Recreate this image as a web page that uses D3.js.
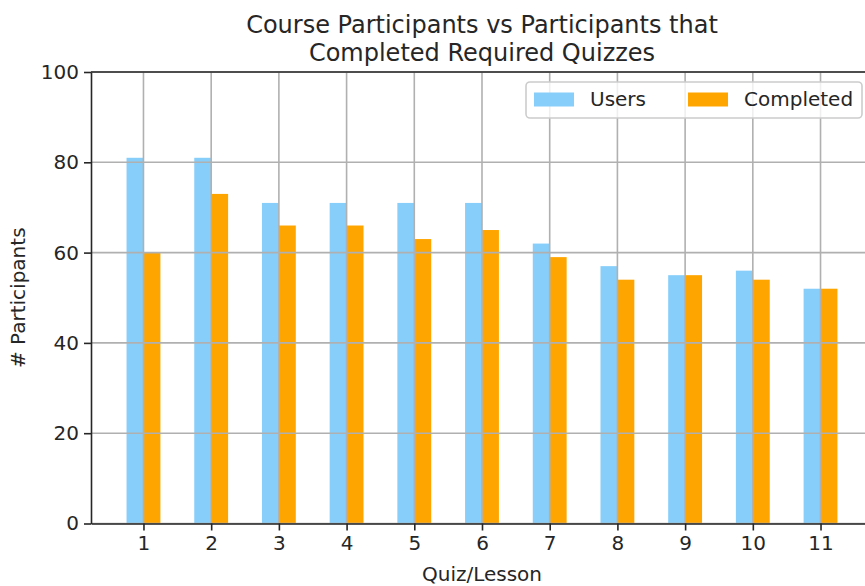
<!DOCTYPE html>
<html>
<head>
<meta charset="utf-8">
<script src="https://cdnjs.cloudflare.com/ajax/libs/d3/7.8.5/d3.min.js"></script>
<style>
  body { margin: 0; background: #fff; overflow: hidden; }
  text { font-family: "DejaVu Sans", sans-serif; fill: #262626; }
</style>
</head>
<body>
<script>
// Chart data
var lessons = [1, 2, 3, 4, 5, 6, 7, 8, 9, 10, 11];
var usersCounts = [81, 81, 71, 71, 71, 71, 62, 57, 55, 56, 52];
var completedCounts = [60, 73, 66, 66, 63, 65, 59, 54, 55, 54, 52];
var seriesNames = ["Users", "Completed"];
var yTicks = [0, 20, 40, 60, 80, 100];

// Define SVG area dimensions
var svgWidth = 865;
var svgHeight = 586;

// Axes box (right edge falls outside the picture, like the original)
var margin = { top: 72, left: 91, right: 873, bottom: 523.5 };

var svg = d3.select("body")
  .append("svg")
  .attr("width", svgWidth)
  .attr("height", svgHeight);

var barWidth = 0.25;

// x is numeric like matplotlib, with 5% margin around the bars
var xMin = lessons[0] - barWidth;
var xMax = lessons[lessons.length - 1] + barWidth;
var pad = (xMax - xMin) * 0.05;
var xScale = d3.scaleLinear()
  .domain([xMin - pad, xMax + pad])
  .range([margin.left, margin.right]);

var yScale = d3.scaleLinear()
  .domain([0, 100])
  .range([margin.bottom, margin.top]);

var colors = ["#87cefa", "#ffa500"];

// Users bars sit left of the tick, Completed bars to the right
var barData = [];
lessons.forEach(function(l, i) {
  barData.push({ x: l - barWidth, v: usersCounts[i], s: 0 });
  barData.push({ x: l, v: completedCounts[i], s: 1 });
});

svg.append("g")
  .selectAll("rect")
  .data(barData)
  .enter()
  .append("rect")
  .attr("x", d => xScale(d.x))
  .attr("width", d => xScale(d.x + barWidth) - xScale(d.x))
  .attr("y", d => yScale(d.v))
  .attr("height", d => yScale(0) - yScale(d.v))
  .attr("fill", d => colors[d.s]);

// Grid lines (drawn over the bars)
var grid = svg.append("g")
  .attr("stroke", "#b0b0b0")
  .attr("stroke-width", 1.6);

grid.selectAll(".vgrid")
  .data(lessons)
  .enter()
  .append("line")
  .attr("x1", d => xScale(d))
  .attr("x2", d => xScale(d))
  .attr("y1", margin.top)
  .attr("y2", margin.bottom);

grid.selectAll(".hgrid")
  .data(yTicks)
  .enter()
  .append("line")
  .attr("x1", margin.left)
  .attr("x2", margin.right)
  .attr("y1", d => yScale(d))
  .attr("y2", d => yScale(d));

// Axes
var xAxis = d3.axisBottom(xScale)
  .tickValues(lessons)
  .tickSizeInner(7)
  .tickSizeOuter(0)
  .tickPadding(5);

var yAxis = d3.axisLeft(yScale)
  .tickValues(yTicks)
  .tickSizeInner(7)
  .tickSizeOuter(0)
  .tickPadding(5);

var xg = svg.append("g")
  .attr("transform", `translate(0, ${margin.bottom})`)
  .call(xAxis);

var yg = svg.append("g")
  .attr("transform", `translate(${margin.left}, 0)`)
  .call(yAxis);

[xg, yg].forEach(function(g) {
  g.attr("font-family", null).attr("font-size", null);
  g.selectAll("text").style("font-size", "20px").attr("fill", "#262626");
  g.selectAll("line").attr("stroke", "#262626").attr("stroke-width", 1.6);
  g.select(".domain").attr("stroke", "#262626").attr("stroke-width", 1.6);
});

// Top spine
svg.append("line")
  .attr("x1", margin.left)
  .attr("x2", margin.right)
  .attr("y1", margin.top)
  .attr("y2", margin.top)
  .attr("stroke", "#262626")
  .attr("stroke-width", 1.6);

// Title
var title = svg.append("text")
  .attr("text-anchor", "middle")
  .style("font-size", "24px");
title.append("tspan")
  .attr("x", (margin.left + margin.right) / 2)
  .attr("y", 32.5)
  .text("Course Participants vs Participants that");
title.append("tspan")
  .attr("x", (margin.left + margin.right) / 2)
  .attr("y", 61)
  .text("Completed Required Quizzes");

// Axis labels
svg.append("text")
  .attr("x", (margin.left + margin.right) / 2)
  .attr("y", 581)
  .attr("text-anchor", "middle")
  .style("font-size", "20px")
  .text("Quiz/Lesson");

svg.append("text")
  .attr("transform", `translate(25, ${(margin.top + margin.bottom) / 2}) rotate(-90)`)
  .attr("text-anchor", "middle")
  .style("font-size", "20px")
  .text("# Participants");

// Legend (two columns, upper right)
var legend = svg.append("g");
legend.append("rect")
  .attr("x", 526)
  .attr("y", 82)
  .attr("width", 336)
  .attr("height", 36)
  .attr("rx", 4)
  .attr("fill", "#fff")
  .attr("fill-opacity", 0.8)
  .attr("stroke", "#cccccc")
  .attr("stroke-width", 1.6);

var legendX = [534, 688];
seriesNames.forEach(function(name, i) {
  legend.append("rect")
    .attr("x", legendX[i])
    .attr("y", 92.5)
    .attr("width", 40)
    .attr("height", 14)
    .attr("fill", colors[i]);
  legend.append("text")
    .attr("x", legendX[i] + 56)
    .attr("y", 106)
    .style("font-size", "20px")
    .text(name);
});
</script>
</body>
</html>
